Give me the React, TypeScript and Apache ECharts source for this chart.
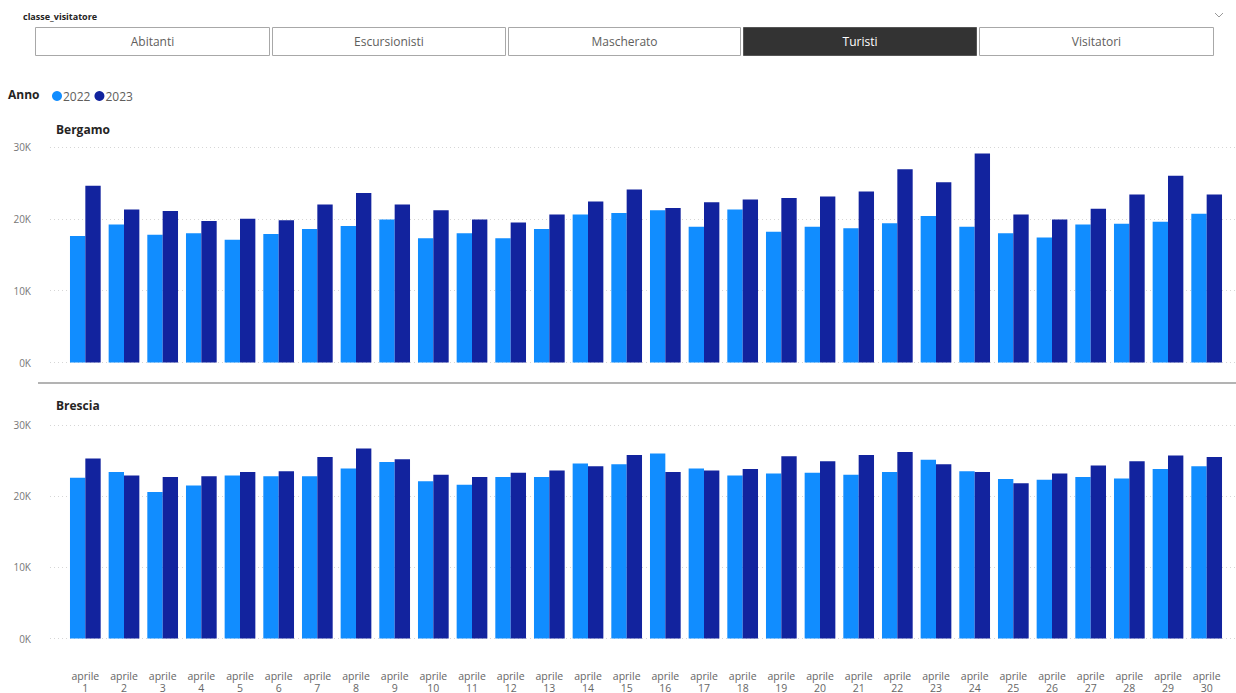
import React, { useEffect, useRef } from "react";
import * as echarts from "echarts";

// Giorni di aprile (asse delle categorie)
const days: string[] = [
  "1", "2", "3", "4", "5", "6", "7", "8", "9", "10",
  "11", "12", "13", "14", "15", "16", "17", "18", "19", "20",
  "21", "22", "23", "24", "25", "26", "27", "28", "29", "30",
];

const years: string[] = ["2022", "2023"];

// Turisti per giorno – Bergamo
const bergamo2022: number[] = [
  17600, 19200, 17800, 18000, 17100, 17900, 18600, 19000, 19900, 17300,
  18000, 17300, 18600, 20600, 20800, 21200, 18900, 21300, 18200, 18900,
  18700, 19400, 20400, 18900, 18000, 17400, 19200, 19300, 19600, 20700,
];
const bergamo2023: number[] = [
  24600, 21300, 21100, 19700, 20000, 19800, 22000, 23600, 22000, 21200,
  19900, 19500, 20600, 22400, 24100, 21500, 22300, 22700, 22900, 23100,
  23800, 26900, 25100, 29100, 20600, 19900, 21400, 23400, 26000, 23400,
];

// Turisti per giorno – Brescia
const brescia2022: number[] = [
  22600, 23400, 20600, 21500, 22900, 22800, 22800, 23900, 24800, 22100,
  21600, 22700, 22700, 24600, 24500, 26000, 23900, 22900, 23200, 23300,
  23000, 23400, 25100, 23500, 22400, 22300, 22700, 22500, 23800, 24200,
];
const brescia2023: number[] = [
  25300, 22900, 22700, 22800, 23400, 23500, 25500, 26700, 25200, 23000,
  22700, 23300, 23600, 24200, 25800, 23400, 23600, 23800, 25600, 24900,
  25800, 26200, 24500, 23400, 21800, 23200, 24300, 24900, 25700, 25500,
];

const slicerItems: string[] = ["Abitanti", "Escursionisti", "Mascherato", "Turisti", "Visitatori"];
const selectedItem = "Turisti";

const yTicks = { min: 0, max: 30000, interval: 10000 };

const COLOR_2022 = "#118DFF";
const COLOR_2023 = "#12239E";
const FONT = "'Open Sans', 'Noto Sans', sans-serif";

export default function App() {
  const ref = useRef<HTMLDivElement>(null);

  useEffect(() => {
    if (!ref.current) return;
    const chart = echarts.init(ref.current, undefined, { renderer: "svg" });

    const panels = [
      { title: "Bergamo", top: 147, bottom: 330.5, data: [bergamo2022, bergamo2023], labels: false },
      { title: "Brescia", top: 425, bottom: 54.5, data: [brescia2022, brescia2023], labels: true },
    ];

    const grid: any[] = [];
    const xAxis: any[] = [];
    const yAxis: any[] = [];
    const series: any[] = [];

    panels.forEach((p, pi) => {
      // background grid: y labels + dotted gridlines
      grid.push({ left: 50, right: 0, top: p.top, bottom: p.bottom, outerBoundsMode: "none", containLabel: false });
      xAxis.push({ gridIndex: pi * 2, type: "category", data: days, show: false });
      yAxis.push({
        gridIndex: pi * 2,
        type: "value",
        ...yTicks,
        axisLine: { show: false },
        axisTick: { show: false },
        axisLabel: {
          color: "#777",
          fontSize: 10,
          fontFamily: FONT,
          margin: 19,
          formatter: (v: number) => `${v / 1000}K`,
        },
        splitLine: { lineStyle: { color: "#d6d6d6", type: [1, 3], width: 1 } },
      });
      // bars grid
      grid.push({ left: 66, right: 10, top: p.top, bottom: p.bottom, outerBoundsMode: "none", containLabel: false });
      xAxis.push({
        gridIndex: pi * 2 + 1,
        type: "category",
        data: days,
        axisLine: { show: false },
        axisTick: { show: false },
        axisLabel: {
          show: p.labels,
          interval: 0,
          color: "#666",
          fontSize: 10.5,
          fontFamily: FONT,
          lineHeight: 12,
          margin: 31,
          formatter: (d: string) => `aprile\n${d}`,
        },
      });
      yAxis.push({ gridIndex: pi * 2 + 1, type: "value", ...yTicks, show: false, splitLine: { show: false } });

      years.forEach((y, yi) => {
        series.push({
          name: y,
          type: "bar",
          xAxisIndex: pi * 2 + 1,
          yAxisIndex: pi * 2 + 1,
          data: p.data[yi],
          barGap: "0%",
          barCategoryGap: "20.6%",
          itemStyle: { color: yi === 0 ? COLOR_2022 : COLOR_2023 },
        });
      });
    });

    const btnX: [number, number][] = [
      [35, 269], [272, 505], [508, 740], [743, 976], [979, 1213],
    ];
    const slicer = slicerItems.map((label, i) => {
      const sel = label === selectedItem;
      const [x0, x1] = btnX[i];
      return {
        type: "rect",
        shape: { x: x0 + 0.5, y: 27.5, width: x1 - x0, height: 28 },
        style: { fill: sel ? "#333333" : "#ffffff", stroke: sel ? "#555" : "#a8a8a8", lineWidth: 1 },
        textContent: {
          style: { text: label, fill: sel ? "#ffffff" : "#605e5c", fontSize: 12, fontFamily: FONT },
        },
        textConfig: { position: "inside" },
      };
    });

    chart.setOption({
      animation: false,
      backgroundColor: "#ffffff",
      textStyle: { fontFamily: FONT },
      legend: {
        data: years,
        left: 52,
        top: 90,
        padding: 0,
        icon: "circle",
        itemWidth: 10,
        itemHeight: 10,
        itemGap: 4,
        textStyle: { color: "#605e5c", fontSize: 12, fontFamily: FONT, padding: [0, 0, 0, -4] },
      },
      grid,
      xAxis,
      yAxis,
      series,
      graphic: [
        {
          type: "text",
          left: 23,
          top: 12,
          style: { text: "classe_visitatore", fill: "#252423", fontSize: 9, fontWeight: "bold", fontFamily: FONT },
        },
        ...slicer,
        {
          type: "polyline",
          shape: { points: [[1215, 13], [1219, 17], [1223, 13]] },
          style: { stroke: "#999", lineWidth: 1, fill: "none" },
        },
        {
          type: "text",
          left: 8,
          top: 88,
          style: { text: "Anno", fill: "#252423", fontSize: 12, fontWeight: "bold", fontFamily: FONT },
        },
        {
          type: "text",
          left: 56,
          top: 123,
          style: { text: "Bergamo", fill: "#252423", fontSize: 12, fontWeight: "bold", fontFamily: FONT },
        },
        {
          type: "line",
          shape: { x1: 38, y1: 383, x2: 1236, y2: 383 },
          style: { stroke: "#b3b3b3", lineWidth: 2 },
        },
        {
          type: "text",
          left: 56,
          top: 399,
          style: { text: "Brescia", fill: "#252423", fontSize: 12, fontWeight: "bold", fontFamily: FONT },
        },
      ],
    });

    return () => chart.dispose();
  }, []);

  return (
    <div
      ref={ref}
      style={{ position: "fixed", left: 0, top: 0, width: 1236, height: 693, background: "#fff" }}
    />
  );
}
